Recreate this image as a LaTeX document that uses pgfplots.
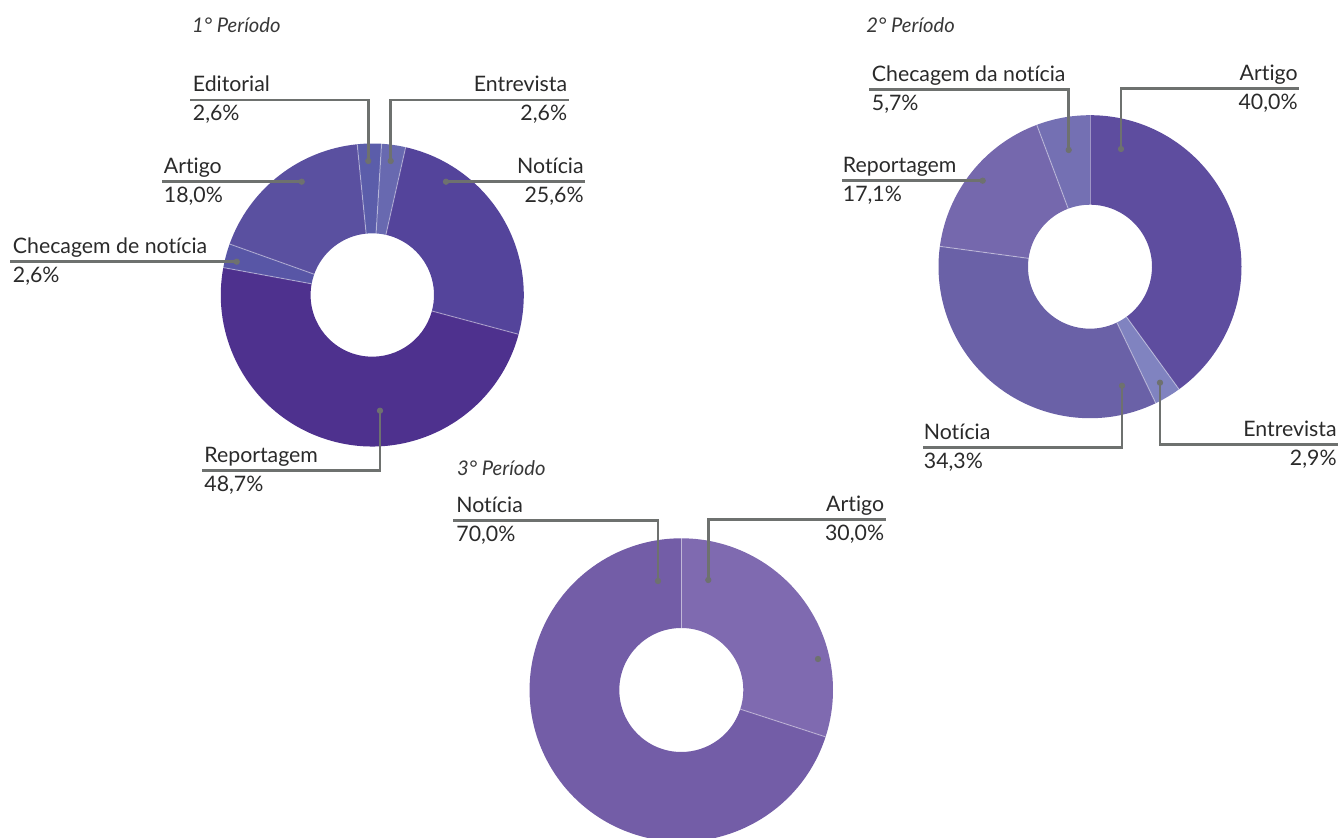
\documentclass[border=0pt]{standalone}
\usepackage{pgfplots}
\pgfplotsset{compat=1.18}
\usepackage{fontspec}
\setmainfont{Lato}[Ligatures={NoCommon,NoContextual}]

% slice colours
\definecolor{aRep}{HTML}{4E318E}
\definecolor{aNot}{HTML}{54449B}
\definecolor{aArt}{HTML}{5A50A0}
\definecolor{aChe}{HTML}{5856A6}
\definecolor{aEdi}{HTML}{5B5DAA}
\definecolor{aEnt}{HTML}{6869B0}
\definecolor{bArt}{HTML}{5E4D9F}
\definecolor{bEnt}{HTML}{8083C0}
\definecolor{bNot}{HTML}{6A61A7}
\definecolor{bRep}{HTML}{7568AD}
\definecolor{bChe}{HTML}{7470B3}
\definecolor{cArt}{HTML}{7F6AB0}
\definecolor{cNot}{HTML}{735DA7}
\definecolor{leader}{HTML}{6E716F}
\definecolor{txt}{HTML}{2A2A2A}
\definecolor{ttl}{HTML}{383838}

\tikzset{
  lab/.style={font=\fontsize{10.65}{12}\selectfont, text=txt, inner sep=0pt},
  ttlstyle/.style={font=\itshape\fontsize{10.1}{12}\selectfont, text=ttl, inner sep=0pt, anchor=base west},
}
\pgfplotsset{
  leaderline/.style={leader, line width=1.3pt, no marks},
  leaderdot/.style={only marks, mark=*, mark size=1.35pt, leader, mark options={draw=leader, fill=leader}},
}

% donut: cx, cy (axis units), outer r, inner r, start angle, {percent/colour,...} clockwise
\newcommand{\donut}[6]{%
  \begin{scope}[shift={(axis cs:#1,#2)}]
    \xdef\cura{#5}%
    \foreach \v/\c in {#6}{%
      \pgfmathsetmacro{\nexta}{\cura-3.6*\v}%
      \fill[\c] (\cura:#3) arc[start angle=\cura,end angle=\nexta,radius=#3]
        -- (\nexta:#4) arc[start angle=\nexta,end angle=\cura,radius=#4] -- cycle;
      \xdef\cura{\nexta}%
    }%
    \xdef\cura{#5}%
    \foreach \v/\c in {#6}{%
      \draw[white,opacity=0.4,line width=0.5pt] (\cura:#4) -- (\cura:#3);
      \pgfmathsetmacro{\nexta}{\cura-3.6*\v}%
      \xdef\cura{\nexta}%
    }%
  \end{scope}%
}

% labels: name above the leader, percentage below it
\newcommand{\labW}[4]{%
  \node[lab,anchor=base west] at (axis cs:#1,#2-8.2) {#3};
  \node[lab,anchor=base west] at (axis cs:#1,#2+20.8) {#4};
}
\newcommand{\labE}[4]{%
  \node[lab,anchor=base east] at (axis cs:#1,#2-8.2) {#3};
  \node[lab,anchor=base east] at (axis cs:#1,#2+20.8) {#4};
}

\begin{document}
\begin{tikzpicture}
\useasboundingbox (0,0) rectangle (670.5pt,419pt);
\begin{axis}[
    width=670.5pt, height=419pt,
    scale only axis,
    xmin=0, xmax=1341, ymin=0, ymax=838,
    y dir=reverse,
    hide axis,
    clip=false,
]

\pgfplotsextra{%
  % 1º Período: Entrevista, Notícia, Reportagem, Checagem, Artigo, Editorial
  \donut{372.3}{295}{75.75pt}{30.85pt}{86.5}
    {2.564/aEnt, 25.641/aNot, 48.718/aRep, 2.564/aChe, 17.949/aArt, 2.564/aEdi}
  % 2º Período: Artigo, Entrevista, Notícia, Reportagem, Checagem
  \donut{1090}{266.7}{75.75pt}{31pt}{90}
    {40.0/bArt, 2.857/bEnt, 34.286/bNot, 17.143/bRep, 5.714/bChe}
  % 3º Período: Artigo, Notícia
  \donut{681.3}{690}{75.85pt}{31pt}{90}
    {30.0/cArt, 70.0/cNot}
}

% leader lines, chart 1
\addplot[leaderline] coordinates {(368.3,161) (368.3,100) (190,100)};
\addplot[leaderline] coordinates {(390.7,161) (390.7,100) (569,100)};
\addplot[leaderline] coordinates {(301.7,181.7) (161.7,181.7)};
\addplot[leaderline] coordinates {(446,181.7) (585,181.7)};
\addplot[leaderline] coordinates {(236.7,261.7) (10,261.7)};
\addplot[leaderline] coordinates {(380,410.7) (380,470.7) (201.7,470.7)};
% chart 2
\addplot[leaderline] coordinates {(1068.7,150) (1068.7,89.3) (869.3,89.3)};
\addplot[leaderline] coordinates {(1121,149) (1121,88.3) (1299.3,88.3)};
\addplot[leaderline] coordinates {(982.7,180.7) (842.3,180.7)};
\addplot[leaderline] coordinates {(1122,385.7) (1122,447.3) (922.7,447.3)};
\addplot[leaderline] coordinates {(1160,382.7) (1160,444.3) (1338.3,444.3)};
% chart 3
\addplot[leaderline] coordinates {(658,581) (658,520.7) (452.7,520.7)};
\addplot[leaderline] coordinates {(708.3,580) (708.3,519.3) (886,519.3)};

\addplot[leaderdot] coordinates {
  (368.3,161) (390.7,161) (301.7,181.7) (446,181.7) (236.7,261.7) (380,410.7)
  (1068.7,150) (1121,149) (982.7,180.7) (1122,385.7) (1160,382.7)
  (658,581) (708.3,580) (818,659)
};

% titles
\node[ttlstyle] at (axis cs:191.7,32.3) {1° Período};
\node[ttlstyle] at (axis cs:866,32.3) {2° Período};
\node[ttlstyle] at (axis cs:456.7,476) {3° Período};

% labels chart 1
\labW{192.5}{100}{Editorial}{2,6\%}
\labE{567.5}{100}{Entrevista}{2,6\%}
\labW{163.5}{181.7}{Artigo}{18,0\%}
\labE{584}{181.7}{Notícia}{25,6\%}
\labW{12.5}{261.7}{Checagem de notícia}{2,6\%}
\labW{204}{470.7}{Reportagem}{48,7\%}
% labels chart 2
\labW{871.5}{89.3}{Checagem da notícia}{5,7\%}
\labE{1298}{88.3}{Artigo}{40,0\%}
\labW{842.5}{180.7}{Reportagem}{17,1\%}
\labW{923.5}{447.3}{Notícia}{34,3\%}
\labE{1337}{444.3}{Entrevista}{2,9\%}
% labels chart 3
\labW{456}{520.7}{Notícia}{70,0\%}
\labE{884.5}{519.3}{Artigo}{30,0\%}

\end{axis}
\end{tikzpicture}
\end{document}
